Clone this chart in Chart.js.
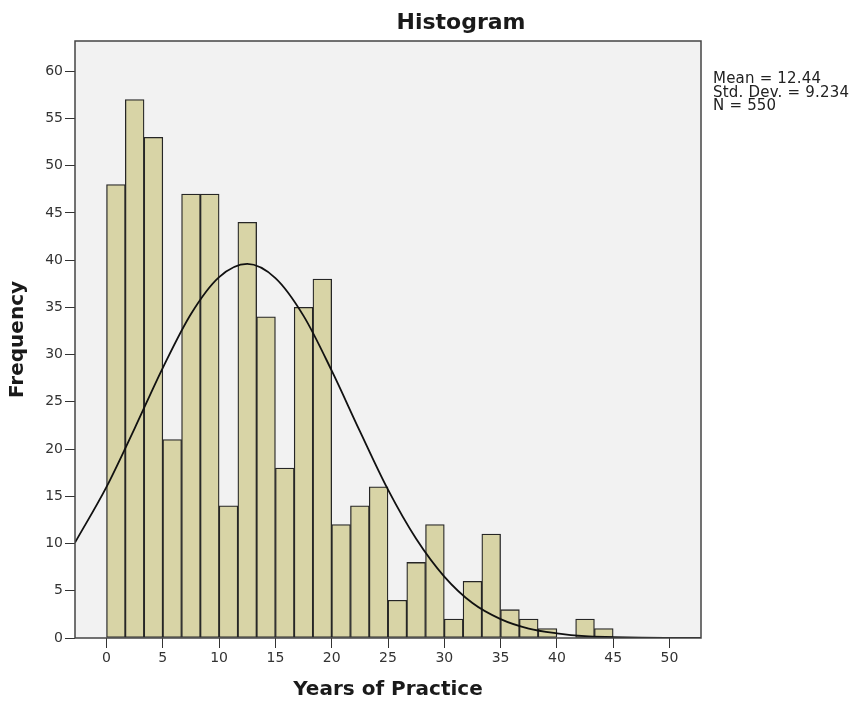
<!DOCTYPE html>
<html>
<head>
<meta charset="utf-8">
<title>Histogram</title>
<script src="https://cdn.jsdelivr.net/npm/chart.js@4.4.1/dist/chart.umd.min.js"></script>
<style>
  html, body { margin: 0; padding: 0; background: #fff; }
  #wrap { width: 851px; height: 703px; }
</style>
</head>
<body>
<div id="wrap"><canvas id="hist" width="851" height="703"></canvas></div>
<script>
// --- data ---
var binWidth = 5 / 3;
var frequencies = [48, 57, 53, 21, 47, 47, 14, 44, 34, 18, 35, 38, 12, 14, 16, 4, 8, 12, 2, 6, 11, 3, 2, 1, 0, 2, 1];

// fitted normal curve
var curveX = [-2.8, 0, 2.5, 5, 7.5, 10, 12.5, 15, 17.5, 20, 22.5, 25, 27.5, 30, 32.5, 35, 37.5, 40, 42.5, 45, 47.5, 50, 52.8];
var curveY = [10.1, 16.0, 22.2, 28.6, 34.3, 38.2, 39.6, 38.1, 34.1, 28.3, 21.9, 15.7, 10.5, 6.5, 3.7, 2.0, 1.0, 0.5, 0.2, 0.1, 0.03, 0.01, 0];

var statLines = ['Mean = 12.44', 'Std. Dev. = 9.234', 'N = 550'];
var chartTitle = 'Histogram';
var xTitle = 'Years of Practice';
var yTitle = 'Frequency';

var xMin = -2.8, xMax = 52.8;
var yMin = 0, yMax = 63.2;

(function() {
  'use strict';

  var tickFont = { family: '"DejaVu Sans", sans-serif', size: 14 };
  var axisTitleFont = { family: '"DejaVu Sans", sans-serif', size: 20, weight: 'bold' };

  var barPoints = frequencies.map(function(f, i) {
    return { x: binWidth * (i + 0.5), y: f };
  });
  var curvePoints = curveX.map(function(x, i) {
    return { x: x, y: curveY[i] };
  });

  // plot background, frame, title and the stats block
  var decorations = {
    id: 'decorations',
    beforeDraw: function(chart) {
      var ctx = chart.ctx, a = chart.chartArea;
      ctx.save();
      ctx.fillStyle = '#ffffff';
      ctx.fillRect(0, 0, chart.width, chart.height);
      ctx.fillStyle = '#f2f2f2';
      ctx.fillRect(a.left, a.top, a.right - a.left, a.bottom - a.top);
      ctx.restore();
    },
    afterDraw: function(chart) {
      var ctx = chart.ctx, a = chart.chartArea;
      ctx.save();
      ctx.strokeStyle = '#444444';
      ctx.lineWidth = 1.5;
      ctx.strokeRect(a.left, a.top, a.right - a.left, a.bottom - a.top);

      ctx.fillStyle = '#1a1a1a';
      ctx.font = 'bold 22px "DejaVu Sans", sans-serif';
      ctx.textAlign = 'center';
      ctx.textBaseline = 'alphabetic';
      ctx.fillText(chartTitle, 461, 29);

      ctx.fillStyle = '#222222';
      ctx.font = '15px "DejaVu Sans", sans-serif';
      ctx.letterSpacing = '0.2px';
      ctx.textAlign = 'left';
      statLines.forEach(function(line, i) {
        ctx.fillText(line, 713, 83 + i * 13.6);
      });
      ctx.restore();
    }
  };

  new Chart(document.getElementById('hist'), {
    type: 'bar',
    data: {
      datasets: [{
        type: 'line',
        data: curvePoints,
        borderColor: '#111111',
        borderWidth: 1.8,
        pointRadius: 0,
        fill: false,
        cubicInterpolationMode: 'monotone',
        order: 0
      }, {
        type: 'bar',
        data: barPoints,
        backgroundColor: '#d8d4a6',
        borderColor: '#262626',
        borderWidth: 1.3,
        borderSkipped: false,
        barPercentage: 1,
        categoryPercentage: 1,
        order: 1
      }]
    },
    options: {
      responsive: false,
      animation: false,
      layout: { padding: { top: 41, right: 150, left: 0, bottom: 0 } },
      plugins: {
        legend: { display: false },
        tooltip: { enabled: false }
      },
      scales: {
        x: {
          type: 'linear',
          min: xMin,
          max: xMax,
          offset: false,
          border: { display: false },
          grid: { drawOnChartArea: false, drawTicks: true, tickLength: 10, color: '#333333', offset: false },
          ticks: { stepSize: 5, includeBounds: false, maxTicksLimit: 20, color: '#333333', font: tickFont, padding: 2, maxRotation: 0 },
          title: { display: true, text: xTitle, color: '#1a1a1a', font: axisTitleFont, padding: { top: 1, bottom: 1 } },
          afterFit: function(scale) { scale.height = 65; }
        },
        y: {
          min: yMin,
          max: yMax,
          border: { display: false },
          grid: { drawOnChartArea: false, drawTicks: true, tickLength: 10, color: '#333333' },
          ticks: { stepSize: 5, includeBounds: false, maxTicksLimit: 20, color: '#333333', font: tickFont, padding: 2 },
          title: { display: true, text: yTitle, color: '#1a1a1a', font: axisTitleFont, padding: { top: 6, bottom: 0 } },
          afterFit: function(scale) { scale.width = 75; }
        }
      }
    },
    plugins: [decorations]
  });
})();
</script>
</body>
</html>
